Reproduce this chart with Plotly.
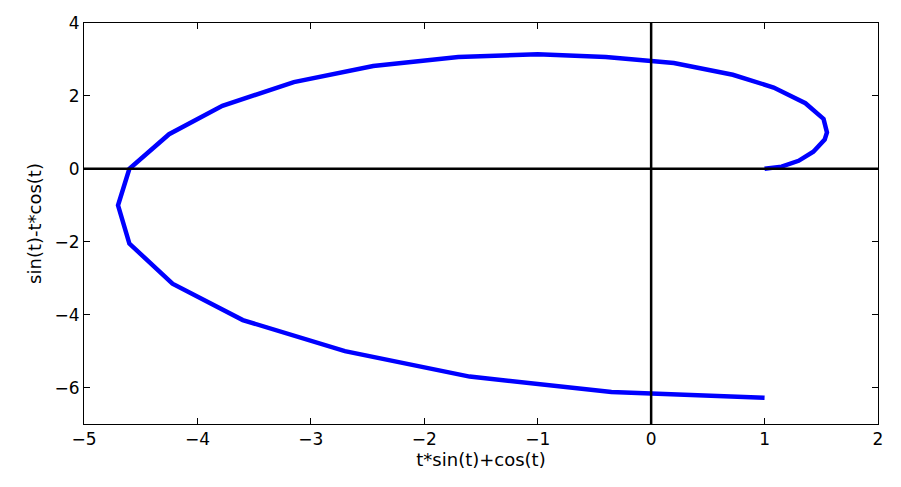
import plotly.graph_objects as go

x_vals = [1.0, 1.15, 1.3, 1.43, 1.53, 1.55, 1.52, 1.36, 1.08, 0.72, 0.2, -0.4, -1.0, -1.7, -2.45,
          -3.15, -3.78, -4.25, -4.6, -4.7, -4.6, -4.22, -3.6, -2.7, -1.6, -0.35, 1.0]
y_vals = [0.0, 0.06, 0.22, 0.47, 0.8, 1.0, 1.37, 1.8, 2.23, 2.58, 2.9, 3.07, 3.14, 3.07, 2.82,
          2.38, 1.73, 0.95, 0.0, -1.0, -2.05, -3.15, -4.15, -5.0, -5.7, -6.12, -6.28]

fig = go.Figure()
fig.add_trace(go.Scatter(x=x_vals, y=y_vals, mode="lines",
                         line=dict(color="#0000ff", width=4.5), showlegend=False))
fig.add_shape(type="line", x0=-5, x1=2, y0=0, y1=0, line=dict(color="black", width=2.5))
fig.add_shape(type="line", x0=0, x1=0, y0=-7, y1=4, line=dict(color="black", width=2.5))

ax = dict(showgrid=False, zeroline=False, showline=True, linecolor="black", linewidth=1,
          mirror="ticks", ticks="inside", ticklen=6, tickcolor="black", automargin=False,
          tickfont=dict(family="DejaVu Sans", size=17, color="black"))
fig.update_xaxes(range=[-5, 2], dtick=1, title=dict(text="t*sin(t)+cos(t)", standoff=2,
                 font=dict(family="DejaVu Sans", size=18, color="black")), **ax)
fig.update_yaxes(range=[-7, 4], dtick=2, title=dict(text="sin(t)-t*cos(t)", standoff=8,
                 font=dict(family="DejaVu Sans", size=18, color="black")), **ax)
fig.update_layout(width=901, height=487, margin=dict(l=76, r=31, t=15, b=71),
                  plot_bgcolor="white", paper_bgcolor="white")
fig.write_html("out.html")
